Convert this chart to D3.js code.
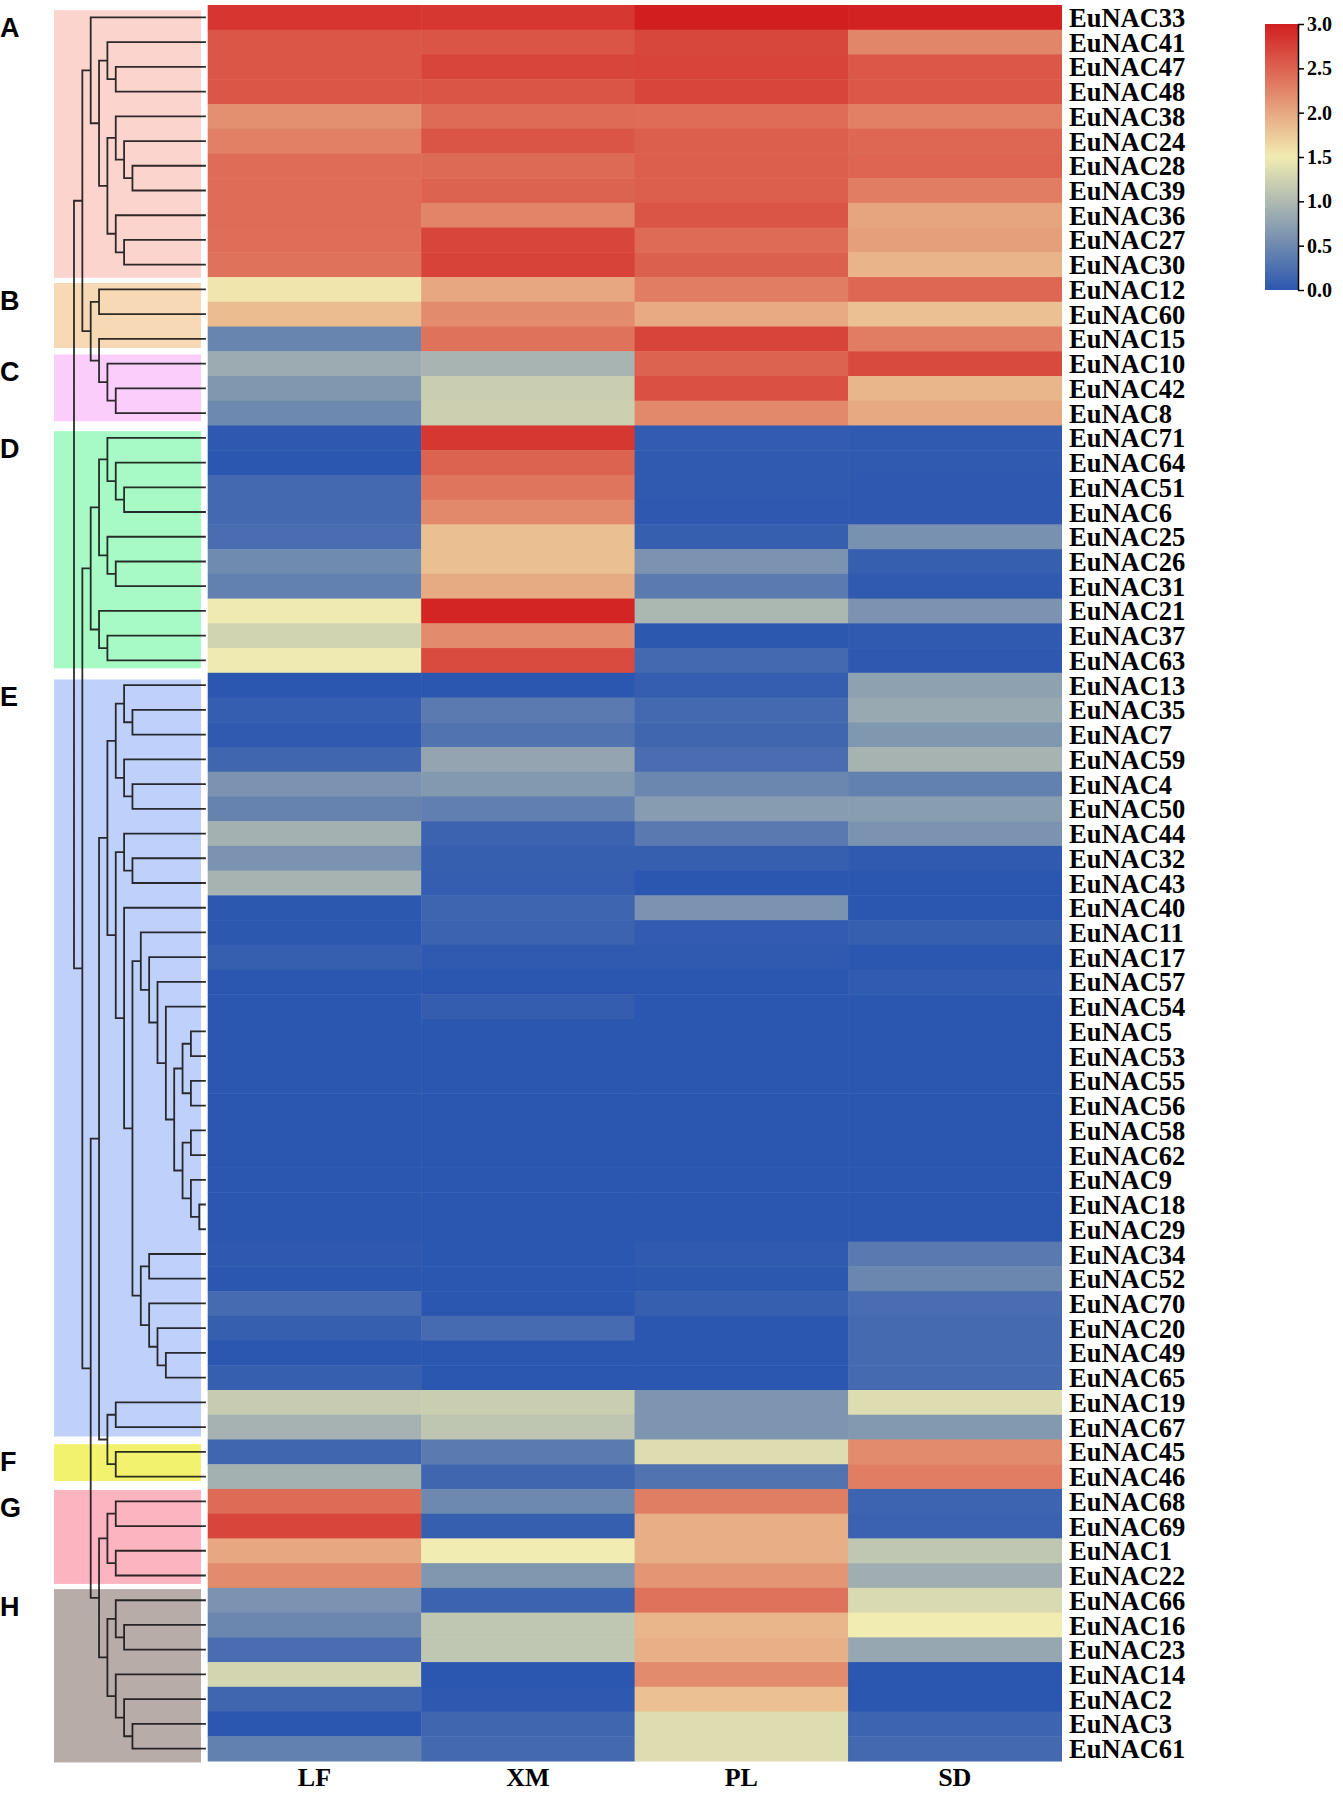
<!DOCTYPE html>
<html>
<head>
<meta charset="utf-8">
<script src="https://cdn.jsdelivr.net/npm/d3@7"></script>
<style>
  body { margin: 0; background: #fff; }
</style>
</head>
<body>
<script>
// row order (top to bottom) as in the clustered heatmap
const genes = [33,41,47,48,38,24,28,39,36,27,30,12,60,15,10,42,8,71,64,51,6,25,26,31,21,37,63,
  13,35,7,59,4,50,44,32,43,40,11,17,57,54,5,53,55,56,58,62,9,18,29,34,52,70,20,49,65,19,67,
  45,46,68,69,1,22,66,16,23,14,2,3,61].map(n => "EuNAC" + n);

const samples = ["LF", "XM", "PL", "SD"];

const LF = [2.83,2.59,2.59,2.59,2.17,2.29,2.43,2.43,2.43,2.42,2.39,1.55,1.85,0.46,0.85,0.64,0.50,
  0.02,0.00,0.18,0.18,0.22,0.52,0.42,1.48,1.26,1.48,
  0.00,0.07,0.03,0.15,0.60,0.44,0.91,0.60,0.93,0.01,0.01,0.08,0.00,0.00,0.00,0.00,0.00,0.00,0.00,
  0.00,0.00,0.00,0.00,0.02,0.00,0.20,0.08,0.00,0.08,1.17,0.92,
  0.15,0.91,2.44,2.71,2.00,2.20,0.60,0.48,0.22,1.27,0.15,0.00,0.42];
const XM = [2.82,2.60,2.71,2.60,2.44,2.60,2.45,2.50,2.26,2.71,2.73,2.00,2.20,2.39,0.94,1.20,1.22,
  2.82,2.50,2.37,2.22,1.83,1.83,1.97,2.95,2.20,2.67,
  0.00,0.36,0.28,0.79,0.66,0.40,0.12,0.08,0.07,0.14,0.12,0.03,0.00,0.06,0.00,0.00,0.00,0.00,0.00,
  0.00,0.00,0.00,0.00,0.00,0.00,0.00,0.20,0.00,0.00,1.20,1.11,
  0.36,0.15,0.50,0.08,1.50,0.64,0.12,1.12,1.12,0.00,0.02,0.15,0.18];
const PL = [3.00,2.70,2.72,2.71,2.43,2.53,2.53,2.53,2.60,2.44,2.52,2.31,1.98,2.72,2.50,2.63,2.22,
  0.05,0.03,0.03,0.02,0.08,0.60,0.36,0.97,0.01,0.18,
  0.07,0.18,0.15,0.22,0.48,0.69,0.34,0.08,0.00,0.60,0.05,0.03,0.00,0.00,0.00,0.00,0.00,0.00,0.00,
  0.00,0.00,0.00,0.00,0.03,0.01,0.08,0.00,0.00,0.00,0.62,0.62,
  1.35,0.28,2.30,1.95,1.95,2.13,2.39,1.90,1.94,2.20,1.81,1.35,1.35];
const SD = [2.97,2.24,2.58,2.58,2.29,2.47,2.48,2.31,2.02,2.06,1.91,2.47,1.81,2.31,2.68,1.90,1.99,
  0.03,0.03,0.02,0.02,0.58,0.08,0.03,0.60,0.03,0.02,
  0.74,0.83,0.64,0.93,0.42,0.70,0.60,0.03,0.00,0.00,0.08,0.00,0.04,0.00,0.00,0.00,0.00,0.00,0.00,
  0.00,0.00,0.00,0.00,0.34,0.48,0.22,0.19,0.19,0.19,1.35,0.66,
  2.20,2.31,0.13,0.11,1.12,0.88,1.32,1.50,0.81,0.00,0.00,0.13,0.18];

// row clustering tree (leaf = gene number)
const tree = [
  [
    [33, [[41, [47, 48]], [[38, [24, [28, 39]]], [36, [27, 30]]]]],
    [[12, 60], [15, [10, [42, 8]]]]
  ],
  [
    [[[71, [64, [51, 6]]], [25, [26, 31]]], [21, [37, 63]]],
    [
      [
        [
          [[13, [35, 7]], [59, [4, 50]]],
          [[44, [32, 43]], [40, [[11, [17, [57, [54, [[[5, 53], [55, 56]], [[58, 62], [9, [18, 29]]]]]]]],
                                 [[34, 52], [70, [20, [49, 65]]]]]]]
        ],
        [[19, 67], [45, 46]]
      ],
      [[[68, 69], [1, 22]], [[66, [16, 23]], [14, [2, [3, 61]]]]]
    ]
  ]
];

// cluster boxes: label, first row, last row (in row units), colour
const groupNames = ["A", "B", "C", "D", "E", "F", "G", "H"];
const groupFrom  = [0.21, 11.24, 14.13, 17.23, 27.27, 58.19, 60.04, 64.05];
const groupTo    = [11.03, 13.87, 16.83, 26.82, 57.88, 59.68, 63.84, 71.06];
const groupFill  = ["#fcd4ce", "#f7d9b6", "#facdfa", "#a7fac6", "#bfd1fb", "#f3f26f", "#fdb4c1", "#b8aca8"];

const colorTicks = [0, 0.5, 1.0, 1.5, 2.0, 2.5, 3.0];

const table = genes.map((g, i) => ({gene: g, values: [LF[i], XM[i], PL[i], SD[i]]}));

const W = 1343, H = 1799;
const serif = "'Liberation Serif', 'Times New Roman', serif";
const sans = "'Liberation Sans', Arial, sans-serif";

const svg = d3.select("body").append("svg")
  .attr("width", W).attr("height", H)
  .attr("viewBox", [0, 0, W, H]);

const y = d3.scaleBand().domain(genes).range([5, 1761]);
const x = d3.scaleBand().domain(samples).range([207.7, 1061.5]);
const rowPos = d3.scaleLinear().domain([0, genes.length]).range([5, 1761]);
const color = d3.scaleLinear().domain([0, 1.5, 3]).range(["#2c57b0", "#f1ecb1", "#d21e1f"]).clamp(true);

// heatmap cells
const rows = svg.append("g").selectAll("g").data(table).join("g")
  .attr("transform", d => `translate(0,${y(d.gene)})`);
rows.selectAll("rect").data(d => d.values.map((v, j) => ({s: samples[j], v}))).join("rect")
  .attr("x", d => x(d.s))
  .attr("width", x.bandwidth() + 0.5)
  .attr("height", y.bandwidth() + 0.5)
  .attr("fill", d => color(d.v));

// row labels
svg.append("g").selectAll("text").data(genes).join("text")
  .attr("x", 1069)
  .attr("y", d => y(d) + y.bandwidth() / 2)
  .attr("dy", "0.36em")
  .style("font", `bold 26.5px ${serif}`)
  .text(d => d);

// column labels
svg.append("g").selectAll("text").data(samples).join("text")
  .attr("x", d => x(d) + x.bandwidth() / 2)
  .attr("y", 1786)
  .attr("text-anchor", "middle")
  .style("font", `bold 26px ${serif}`)
  .text(d => d);

// group boxes (under the tree lines)
const boxes = svg.append("g");
groupNames.forEach((g, i) => {
  boxes.append("rect")
    .attr("x", 54).attr("y", rowPos(groupFrom[i]))
    .attr("width", 147).attr("height", rowPos(groupTo[i]) - rowPos(groupFrom[i]))
    .attr("fill", groupFill[i]);
  boxes.append("text")
    .attr("x", 0).attr("y", rowPos(groupFrom[i]) + 27)
    .style("font", `bold 27px ${sans}`)
    .text(g);
});

// dendrogram
const rootX = 74, step = 8.35, leafX = 205;
const root = d3.hierarchy(tree, d => Array.isArray(d) ? d : null);
root.eachAfter(n => {
  if (!n.children) {
    n.py = y("EuNAC" + n.data) + y.bandwidth() / 2;
    n.px = leafX;
  } else {
    n.py = (n.children[0].py + n.children[n.children.length - 1].py) / 2;
    n.px = rootX + n.depth * step;
  }
});

const path = d3.path();
root.each(n => {
  if (!n.children) return;
  const first = n.children[0], last = n.children[n.children.length - 1];
  path.moveTo(n.px, first.py);
  path.lineTo(n.px, last.py);
  n.children.forEach(c => {
    path.moveTo(n.px, c.py);
    path.lineTo(c.px, c.py);
  });
});
svg.append("path")
  .attr("d", path.toString())
  .attr("fill", "none")
  .attr("stroke", "#111")
  .attr("stroke-opacity", 0.88)
  .attr("stroke-width", 1.8)
  .attr("stroke-linecap", "square");

// colour bar
const cb = d3.scaleLinear().domain([0, 3]).range([290, 24]);
const grad = svg.append("defs").append("linearGradient")
  .attr("id", "cbgrad").attr("x1", 0).attr("y1", 1).attr("x2", 0).attr("y2", 0);
grad.selectAll("stop").data(d3.range(0, 1.0001, 0.05)).join("stop")
  .attr("offset", d => d)
  .attr("stop-color", d => color(d * 3));
svg.append("rect")
  .attr("x", 1265).attr("y", cb(3))
  .attr("width", 33).attr("height", cb(0) - cb(3))
  .attr("fill", "url(#cbgrad)");
const ax = svg.append("g")
  .attr("transform", "translate(1298,0)")
  .call(d3.axisRight(cb).tickValues(colorTicks).tickFormat(d3.format(".1f")).tickSize(6).tickSizeOuter(0));
ax.select(".domain").attr("stroke-width", 1.5);
ax.selectAll(".tick line").attr("stroke-width", 1.5);
ax.selectAll(".tick text").style("font", `bold 20px ${serif}`).attr("x", 9);
</script>
</body>
</html>
